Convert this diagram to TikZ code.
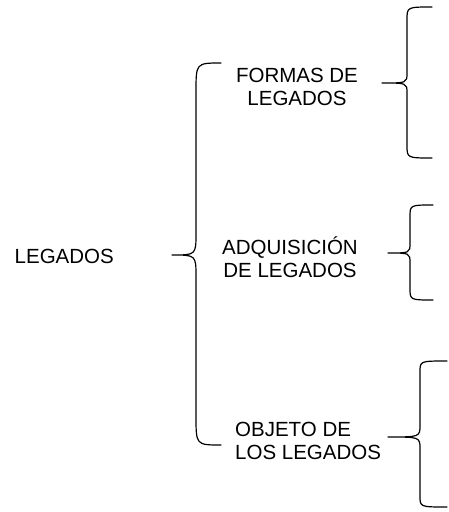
\documentclass[tikz,border=0pt]{standalone}
\usepackage{fontspec}
\setmainfont{Liberation Sans}
\usetikzlibrary{positioning}

% llave: end x, stem x, tip x, top y, tip y, bottom y, end bend, tip bend
\newcommand\llave[8]{%
  \draw[brace line] (#1,#4) .. controls (#2,#4) .. (#2,#4+#7) -- (#2,#5-#8)
    .. controls (#2,#5) .. (#3,#5) .. controls (#2,#5) .. (#2,#5+#8)
    -- (#2,#6-#7) .. controls (#2,#6) .. (#1,#6);}

\begin{document}
\begin{tikzpicture}[x=1pt,y=-1pt,
    label/.style={font=\fontsize{20.5}{22.5}\selectfont,inner sep=0pt,align=center},
    brace line/.style={draw=black,line width=1.2pt,line cap=round,line join=round}]
  \useasboundingbox (0,0) rectangle (448,512);

  \node[label,anchor=east] (legados) at (114,256) {LEGADOS};
  \node[label] (formas) at (297,87) {FORMAS DE\\LEGADOS};
  \node[label] (adquisicion) at (290,257) {ADQUISICIÓN\\DE LEGADOS};
  \node[label,align=left,anchor=west] (objeto) at (235,441) {OBJETO DE\\LOS LEGADOS};

  % big one
  \llave{221}{196}{172}{63}{255}{445}{29}{22}
  % small ones
  \llave{432}{407}{382}{7}{83}{158}{13}{10}
  \llave{433}{410}{388}{205}{253}{300}{12}{10}
  \llave{447}{420}{388}{361}{437}{507}{11}{12}
\end{tikzpicture}
\end{document}
